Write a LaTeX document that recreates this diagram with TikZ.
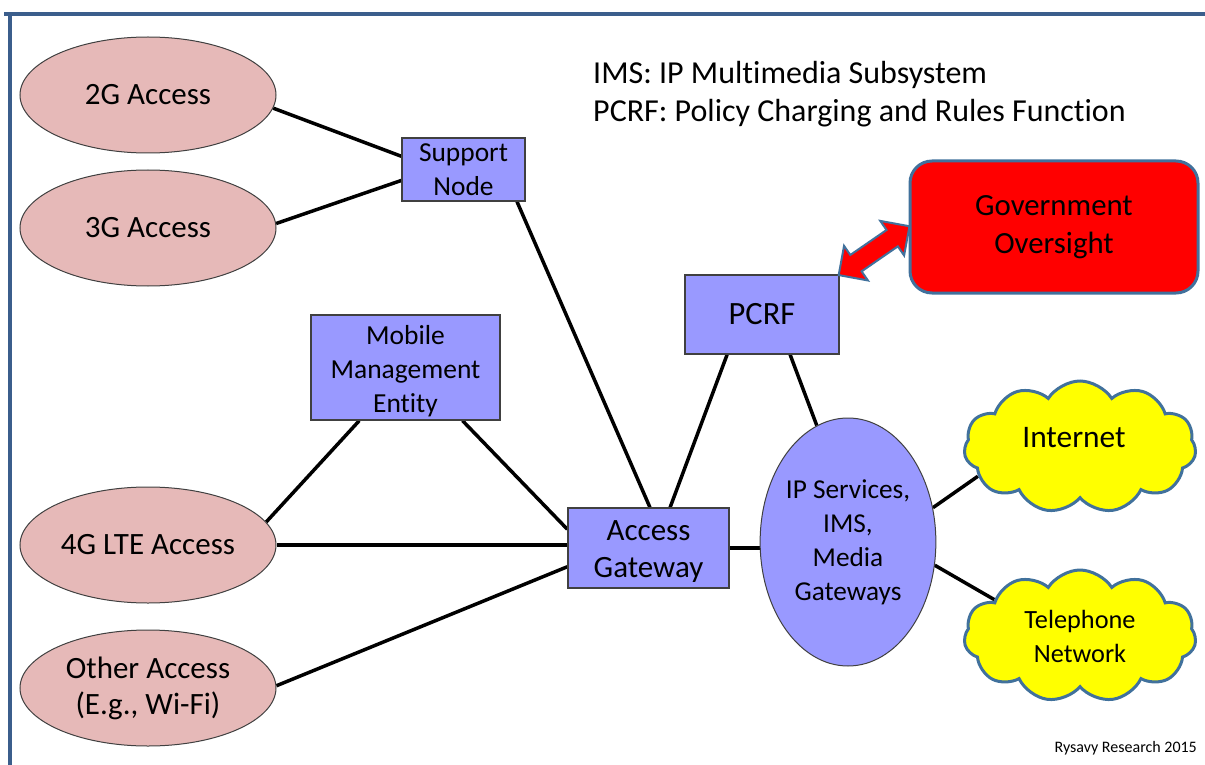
\documentclass[tikz,border=0pt]{standalone}
\usepackage{fontspec}
\setmainfont[Ligatures=NoCommon]{Carlito}
\usetikzlibrary{shapes.geometric,shapes.symbols,shapes.arrows,backgrounds,calc}

\definecolor{accfill}{HTML}{E6B9B8}
\definecolor{boxfill}{HTML}{9999FF}
\definecolor{cloudfill}{HTML}{FFFF00}
\definecolor{govfill}{HTML}{FF0000}
\definecolor{edge}{HTML}{41719C}
\definecolor{framecol}{HTML}{3B5E8C}
\definecolor{outl}{HTML}{404040}

\tikzset{
  accnode/.style={ellipse, fill=accfill, draw=outl, line width=1pt,
    minimum width=256pt, minimum height=116pt, inner sep=0pt, align=center,
    font=\fontsize{31}{38}\selectfont},
  blk/.style={rectangle, fill=boxfill, draw=outl, line width=1.3pt,
    inner sep=0pt, align=center},
  netcloud/.style={cloud, cloud puffs=11, cloud puff arc=115, aspect=1.75,
    fill=cloudfill, draw=edge, line width=3pt, inner sep=0pt,
    minimum width=232pt, minimum height=132pt, align=center},
  link/.style={line width=3.5pt, black},
  framerule/.style={line width=4pt, framecol}
}

\begin{document}
\begin{tikzpicture}[x=1pt, y=-1pt]
\path[use as bounding box] (0,0) rectangle (1205,765);

% outer frame
\draw[framerule] (4,14) -- (1205,14);
\draw[framerule] (10,14) -- (10,765);

% access networks
\node[accnode] (g2) at (148,95) {2G Access};
\node[accnode] (g3) at (148,228) {3G Access};
\node[accnode] (g4) at (148,545) {4G LTE Access};
\node[accnode, font=\fontsize{31}{36}\selectfont] (oth) at (148,688) {Other Access\\(E.g., Wi-Fi)};

% core elements
\node[blk, minimum width=123pt, minimum height=63pt, font=\fontsize{27.4}{33.5}\selectfont] (sup) at (463.5,169.5) {Support\\Node};
\node[blk, minimum width=189pt, minimum height=105pt, font=\fontsize{27.5}{34}\selectfont] (mme) at (405.5,367.5) {\\[-8pt]Mobile\\Management\\Entity};
\node[blk, minimum width=161pt, minimum height=80pt,
      label={[align=center, font=\fontsize{31}{37}\selectfont, yshift=-4pt]center:Access\\Gateway}] (ag) at (648.5,548) {};
\node[blk, minimum width=154pt, minimum height=79pt, font=\fontsize{32.5}{38}\selectfont] (pcrf) at (762,314.5) {PCRF};
\node[ellipse, fill=boxfill, draw=outl, line width=1pt, inner sep=0pt,
      minimum width=173pt, minimum height=248pt, align=center,
      font=\fontsize{27.3}{34}\selectfont] (ip) at (848,542) {IP Services,\\IMS,\\Media\\Gateways};

% oversight box
\node[rectangle, rounded corners=22pt, fill=govfill, draw=edge, line width=3pt,
      minimum width=288pt, minimum height=132pt, inner sep=0pt, align=center,
      font=\fontsize{30.8}{38}\selectfont] (gov) at (1054,227) {Government\\Oversight};

% external networks
\node[netcloud, label={[font=\fontsize{31.4}{38}\selectfont, xshift=-6pt, yshift=9pt]center:Internet}] (inet) at (1080,447) {};
\node[netcloud, font=\fontsize{26.3}{34}\selectfont] (tel) at (1080,636) {Telephone\\Network};

% two-way link to oversight
\node[double arrow, fill=govfill, draw=edge, line width=2pt, inner sep=8pt,
      minimum height=86pt, minimum width=42pt, double arrow head extend=10pt,
      rotate=34.6] (ovl) at ($(pcrf.north east)!0.5!(gov.west)$) {};

% legend and credit
\node[anchor=north west, align=left, inner sep=0pt, font=\fontsize{32}{38}\selectfont] (legend) at (593,61)
  {IMS: IP Multimedia Subsystem\\PCRF: Policy Charging and Rules Function};
\node[anchor=east, inner sep=0pt, font=\fontsize{16}{19}\selectfont] (credit) at (1197,748) {Rysavy Research 2015};

% connections
\begin{scope}[on background layer]
\draw[link] (g2.-6) -- (sup.168);
\draw[link] (g3.2) -- (sup.190);
\draw[link] (sup.-31) -- (ag.88);
\draw[link] (mme.229) -- (g4.11);
\draw[link] (mme.-43) -- (ag.167);
\draw[link] (g4.east) -- (g4.east -| ag.west);
\draw[link] (oth.1) -- (ag.193);
\draw[link] (ag.62) -- (pcrf.229);
\draw[link] (pcrf.-55) -- (ip.105);
\draw[link] (ag.east) -- (ag.east -| ip.west);
\draw[link] (ip.22) -- (inet.196);
\draw[link] (ip.-15) -- (tel.157);
\end{scope}
\end{tikzpicture}
\end{document}
